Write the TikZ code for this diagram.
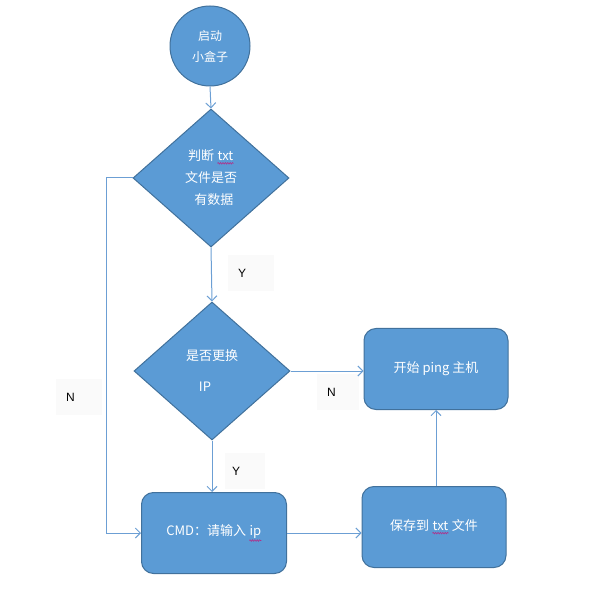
\documentclass[tikz,border=0pt]{standalone}
\usepackage{fontspec}
\setmainfont{Liberation Sans}
\newfontfamily\cjkfont{Noto Sans CJK SC}
\usetikzlibrary{shapes.geometric,arrows.meta,decorations.pathmorphing}

\definecolor{boxfill}{HTML}{5B9BD5}
\definecolor{boxedge}{HTML}{41719C}
\definecolor{linkblue}{HTML}{6C9FD4}
\definecolor{spellred}{HTML}{B0308A}

% spelling squiggle under a word
\newcommand{\squig}[1]{\tikz[baseline=(w.base)]{%
  \node[rectangle, draw=none, fill=none, minimum size=0pt,
    inner sep=0pt, text=white] (w) {#1};
  \draw[spellred, line width=0.6pt, rounded corners=0pt, decorate,
    decoration={snake, amplitude=0.8pt, segment length=2.4pt}]
    ([yshift=-2pt]w.south west) -- ([yshift=-2pt]w.south east);}}

\begin{document}
\begin{tikzpicture}[
  x=1pt, y=-1pt,
  startnode/.style={circle, draw=boxedge, line width=1pt, fill=boxfill,
    minimum size=80pt, inner sep=0pt, text=white, align=center,
    font=\cjkfont\fontsize{12}{21}\selectfont},
  decision/.style={diamond, draw=boxedge, line width=1pt, fill=boxfill,
    minimum width=156pt, minimum height=138pt, inner sep=0pt,
    text=white, align=center, font=\cjkfont\fontsize{13}{22}\selectfont},
  process/.style={rectangle, rounded corners=12pt, draw=boxedge,
    line width=1pt, fill=boxfill, minimum width=145pt, minimum height=81pt,
    text=white, align=center, font=\cjkfont\fontsize{13}{16}\selectfont},
  link/.style={draw=linkblue, line width=1pt,
    -{Straight Barb[length=5pt,width=10pt]}},
  answer/.style={fill=black!2, text width=26pt, align=left,
    minimum height=36pt, inner xsep=10pt, inner ysep=0pt,
    font=\fontsize{12}{14}\selectfont}
]
\useasboundingbox (0,0) rectangle (598,591);

% ------------------------------------------------------------
% Main column
% ------------------------------------------------------------
\node[startnode] (start) at (210,46) {启动\\小盒子};

\node[decision] (hastxt) at (211,178)
  {判断 \squig{txt}\\文件是否\\\ \ 有数据};

\node[decision] (newip) at (212,371)
  {是否更换\\[9pt]IP\hspace*{14pt}};

\node[process] (cmd) at (214,533) {CMD：请输入 \squig{ip}};

% ------------------------------------------------------------
% Right column
% ------------------------------------------------------------
\node[process, minimum width=144pt] (ping) at (436,369) {开始 ping 主机};

\node[process, minimum width=144pt] (save) at (434,527)
  {保存到 \squig{txt} 文件};

% ------------------------------------------------------------
% Answer labels
% ------------------------------------------------------------
\node[answer] (yes1) at (251,273) {Y};
\node[answer, inner xsep=7pt] (yes2) at (245,471) {Y};
\node[answer] (no1)  at (79,397)  {N};
\node[answer, text width=22pt] (no2) at (338,392) {N};

% ------------------------------------------------------------
% Connectors
% ------------------------------------------------------------
\draw[link] (start.south) -- (hastxt.north);
\draw[link] (hastxt.south) -- (newip.north);
\draw[link] (newip.south) -- (newip.south |- cmd.north);
\draw[link] (hastxt.west) -- ++(-26,0) |- (cmd.west);
\draw[link] (newip.east) -- (newip.east -| ping.west);
\draw[link] (cmd.east) -- (cmd.east -| save.west);
\draw[link] (save.north -| ping.south) -- (ping.south);

\end{tikzpicture}
\end{document}
